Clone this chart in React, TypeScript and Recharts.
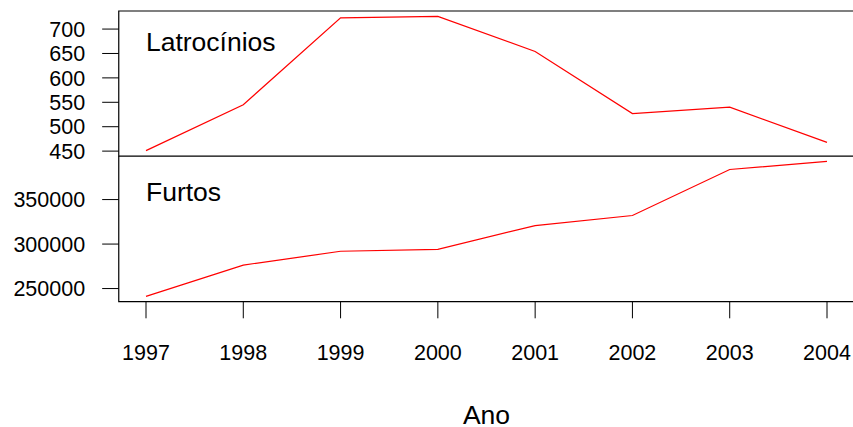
import React from 'react';
import { LineChart, Line, XAxis, YAxis, ReferenceArea } from 'recharts';

// Annual counts, 1997–2004
const years = [1997, 1998, 1999, 2000, 2001, 2002, 2003, 2004];
const latrocinios = [451, 545, 723, 726, 654, 527, 540, 468];
const furtos = [241300, 276400, 291900, 294100, 320800, 332100, 383800, 392900];

const latTicks = [450, 500, 550, 600, 650, 700];
const furTicks = [250000, 300000, 350000];
const panelTitles = ['Latrocínios', 'Furtos'];
const xTitle = 'Ano';

const FONT = '"Liberation Sans", Arial, Helvetica, sans-serif';
const TICK_FONT = 21.5;
const TITLE_FONT = 26.5;
const RED = '#ff0000';

// Axis range padded by 4% on each side, like base graphics defaults
const padded = (vals: number[]): [number, number] => {
  const lo = Math.min(...vals);
  const hi = Math.max(...vals);
  const ext = (hi - lo) * 0.04;
  return [lo - ext, hi + ext];
};

const xDomain = padded(years);
const latDomain = padded(latrocinios);
const furDomain = padded(furtos);

const latData = years.map((year, i) => ({ year, value: latrocinios[i] }));
const furData = years.map((year, i) => ({ year, value: furtos[i] }));

const CHART_W = 900;
const PLOT_LEFT = 118.76;
const PLOT_RIGHT = 854.24;

const tickStyle = { fontSize: TICK_FONT, fontFamily: FONT, fill: '#000' };

const panelTitle = (text: string, baseline: number) => (props: any) => {
  const vb = props.viewBox || {};
  return (
    <text
      x={vb.x + 27.2}
      y={vb.y + baseline}
      fontSize={TITLE_FONT}
      fontFamily={FONT}
      fill="#000"
    >
      {text}
    </text>
  );
};

export default function App() {
  return (
    <div
      style={{
        position: 'absolute',
        left: 0,
        top: 0,
        width: 853,
        height: 427,
        overflow: 'hidden',
        background: '#fff',
      }}
    >
      {/* Upper panel: Latrocínios */}
      <div style={{ position: 'absolute', left: 0, top: 0 }}>
        <LineChart
          width={CHART_W}
          height={180}
          data={latData}
          margin={{ top: 11, right: CHART_W - PLOT_RIGHT, bottom: 24, left: 0 }}
        >
          <XAxis dataKey="year" type="number" domain={xDomain} hide />
          <YAxis
            type="number"
            domain={latDomain}
            ticks={latTicks}
            width={PLOT_LEFT}
            axisLine={false}
            tickSize={16.6}
            tickMargin={17}
            tick={tickStyle}
            tickLine={{ stroke: '#000', strokeWidth: 1 }}
            interval={0}
            allowDataOverflow
          />
          <ReferenceArea
            x1={xDomain[0]}
            x2={xDomain[1]}
            y1={latDomain[0]}
            y2={latDomain[1]}
            fill="none"
            fillOpacity={0}
            stroke="#000"
            strokeWidth={1.2}
            ifOverflow="visible"
            label={panelTitle(panelTitles[0], 40)}
          />
          <Line
            dataKey="value"
            stroke={RED}
            strokeWidth={1.2}
            dot={false}
            isAnimationActive={false}
          />
        </LineChart>
      </div>

      {/* Lower panel: Furtos, with the shared year axis */}
      <div style={{ position: 'absolute', left: 0, top: 156 }}>
        <LineChart
          width={CHART_W}
          height={285}
          data={furData}
          margin={{ top: 0, right: CHART_W - PLOT_RIGHT, bottom: 14, left: 0 }}
        >
          <XAxis
            dataKey="year"
            type="number"
            domain={xDomain}
            ticks={years}
            interval={0}
            height={125.3}
            axisLine={false}
            tickSize={16.6}
            tickMargin={26}
            tick={tickStyle}
            tickLine={{ stroke: '#000', strokeWidth: 1 }}
            allowDataOverflow
            label={{
              value: xTitle,
              position: 'insideBottom',
              offset: 2.7,
              style: { fontSize: TITLE_FONT, fontFamily: FONT, fill: '#000' },
            }}
          />
          <YAxis
            type="number"
            domain={furDomain}
            ticks={furTicks}
            width={PLOT_LEFT}
            axisLine={false}
            tickSize={16.6}
            tickMargin={17}
            tick={tickStyle}
            tickLine={{ stroke: '#000', strokeWidth: 1 }}
            interval={0}
            allowDataOverflow
          />
          <ReferenceArea
            x1={xDomain[0]}
            x2={xDomain[1]}
            y1={furDomain[0]}
            y2={furDomain[1]}
            fill="none"
            fillOpacity={0}
            stroke="#000"
            strokeWidth={1.2}
            ifOverflow="visible"
            label={panelTitle(panelTitles[1], 45)}
          />
          <Line
            dataKey="value"
            stroke={RED}
            strokeWidth={1.2}
            dot={false}
            isAnimationActive={false}
          />
        </LineChart>
      </div>
    </div>
  );
}
